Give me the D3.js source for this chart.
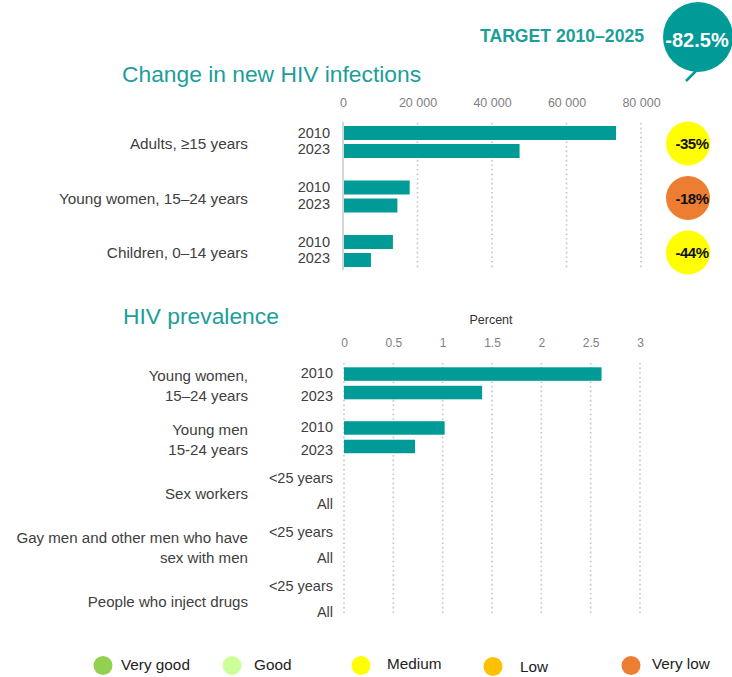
<!DOCTYPE html>
<html><head><meta charset="utf-8">
<script src="https://cdn.jsdelivr.net/npm/d3@7"></script>
<style>body{margin:0;background:#fff} svg{font-family:"Liberation Sans",Arial,sans-serif}</style>
</head><body><svg id="c" width="732" height="677"></svg>
<script>
// ---------- data ----------
const infGroups = ["Adults, ≥15 years", "Young women, 15–24 years", "Children, 0–14 years"];
const years = ["2010", "2023"];
const infections2010 = [73300, 17900, 13400];
const infections2023 = [47400, 14600, 7500];
const changeLabels = ["-35%", "-18%", "-44%"];
const changeRatings = ["Medium", "Very low", "Medium"];
const infTicks = [0, 20000, 40000, 60000, 80000];
const targetLabel = "TARGET 2010–2025";
const targetValue = "-82.5%";

const prevGroups = [["Young women,", "15–24 years"], ["Young men", "15-24 years"], ["Sex workers"],
                    ["Gay men and other men who have", "sex with men"], ["People who inject drugs"]];
const prevSubLabels = [["2010", "2023"], ["2010", "2023"], ["<25 years", "All"], ["<25 years", "All"], ["<25 years", "All"]];
const prev2010 = [2.61, 1.02, null, null, null];
const prev2023 = [1.40, 0.72, null, null, null];
const prevTicks = [0, 0.5, 1, 1.5, 2, 2.5, 3];

const legendLabels = ["Very good", "Good", "Medium", "Low", "Very low"];
const legendColors = ["#92d050", "#ccff99", "#ffff00", "#ffc000", "#ed7d31"];

// ---------- styles ----------
const TEAL = "#009a97", TITLE = "#1c9e9a", LABEL = "#404040", TICK = "#808080", GRID = "#c4c4c4";
const ratingColor = d3.scaleOrdinal(legendLabels, legendColors);

const svg = d3.select("#c");
const fmtSpace = d3.formatLocale({decimal: ".", thousands: " ", grouping: [3], currency: ["", ""]}).format(",");

// ---------- target bubble ----------
svg.append("text").attr("x", 644).attr("y", 42).attr("text-anchor", "end")
  .attr("font-size", 17.6).attr("font-weight", "bold").attr("fill", TITLE).text(targetLabel);
svg.append("line").attr("x1", 686).attr("y1", 81).attr("x2", 696).attr("y2", 71)
  .attr("stroke", TEAL).attr("stroke-width", 2.5);
svg.append("circle").attr("cx", 698).attr("cy", 37).attr("r", 35).attr("fill", TEAL);
svg.append("text").attr("x", 697).attr("y", 47).attr("text-anchor", "middle")
  .attr("font-size", 20).attr("font-weight", "bold").attr("fill", "#fff").text(targetValue);

// ---------- chart 1: new infections ----------
svg.append("text").attr("x", 122).attr("y", 82).attr("font-size", 22.8).attr("fill", TITLE)
  .text("Change in new HIV infections");

const x1 = d3.scaleLinear().domain([0, 80000]).range([343, 641]);
const g1 = d3.scalePoint().domain(infGroups).range([142, 251]);
const inner1 = d3.scaleBand().domain(years).range([-16, 16]).paddingInner(4 / 18);

const ax1 = svg.append("g").attr("transform", "translate(0,110)")
  .call(d3.axisTop(x1).tickValues(infTicks).tickFormat(fmtSpace).tickSize(0));
ax1.select(".domain").remove();
ax1.selectAll("text").attr("font-size", 12.5).attr("fill", TICK).attr("font-family", "Liberation Sans, Arial, sans-serif").attr("dy", 0);

svg.append("g").selectAll("line").data(infTicks.filter(t => t > 0)).join("line")
  .attr("x1", d => x1(d)).attr("x2", d => x1(d)).attr("y1", 123).attr("y2", 270)
  .attr("stroke", GRID).attr("stroke-width", 1.6).attr("stroke-dasharray", "1.6,3");
svg.append("line").attr("x1", x1(0)).attr("x2", x1(0)).attr("y1", 122).attr("y2", 270)
  .attr("stroke", "#d6d6d6").attr("stroke-width", 2);

const inf = infGroups.map((g, i) => ({g, i, vals: [infections2010[i], infections2023[i]]}));
inf.forEach(d => {
  years.forEach((y, k) => {
    svg.append("rect").attr("x", x1(0) + 1).attr("y", g1(d.g) + inner1(y))
      .attr("width", x1(d.vals[k]) - x1(0) - 1).attr("height", inner1.bandwidth()).attr("fill", TEAL);
  });
  svg.append("text").attr("x", 330).attr("y", g1(d.g) - 4.3).attr("text-anchor", "end")
    .attr("font-size", 14.5).attr("fill", LABEL).text(years[0]);
  svg.append("text").attr("x", 330).attr("y", g1(d.g) + 12).attr("text-anchor", "end")
    .attr("font-size", 14.5).attr("fill", LABEL).text(years[1]);
  svg.append("text").attr("x", 248).attr("y", g1(d.g) + 7).attr("text-anchor", "end")
    .attr("font-size", 15.3).attr("fill", LABEL).text(d.g);
  svg.append("circle").attr("cx", 688).attr("cy", g1(d.g) + 1.5).attr("r", 22)
    .attr("fill", ratingColor(changeRatings[d.i]));
  svg.append("text").attr("x", 692).attr("y", g1(d.g) + 7).attr("text-anchor", "middle")
    .attr("font-size", 15).attr("font-weight", "bold").attr("letter-spacing", -0.5)
    .attr("fill", "#111").text(changeLabels[d.i]);
});

// ---------- chart 2: prevalence ----------
svg.append("text").attr("x", 123).attr("y", 324).attr("font-size", 22.8).attr("fill", TITLE)
  .text("HIV prevalence");
svg.append("text").attr("x", 491).attr("y", 324).attr("text-anchor", "middle")
  .attr("font-size", 12.5).attr("fill", "#333").text("Percent");

const x2 = d3.scaleLinear().domain([0, 3]).range([344, 640]);
const g2 = d3.scalePoint().domain(d3.range(prevGroups.length)).range([383.3, 599]);
const inner2 = d3.scaleBand().domain(years).range([-16, 16]).paddingInner(5 / 18.5);

const ax2 = svg.append("g").attr("transform", "translate(0,350)")
  .call(d3.axisTop(x2).tickValues(prevTicks).tickFormat(d => String(d)).tickSize(0));
ax2.select(".domain").remove();
ax2.selectAll("text").attr("font-size", 12).attr("fill", TICK).attr("font-family", "Liberation Sans, Arial, sans-serif").attr("dy", 0);

svg.append("g").selectAll("line").data(prevTicks).join("line")
  .attr("x1", d => x2(d)).attr("x2", d => x2(d)).attr("y1", 363).attr("y2", 616)
  .attr("stroke", GRID).attr("stroke-width", 1.6).attr("stroke-dasharray", "1.6,3");

prevGroups.forEach((lines, i) => {
  const cy = g2(i);
  const vals = [prev2010[i], prev2023[i]];
  const hasData = vals[0] != null;
  years.forEach((y, k) => {
    if (vals[k] != null) {
      svg.append("rect").attr("x", x2(0)).attr("y", cy + inner2(y))
        .attr("width", x2(vals[k]) - x2(0)).attr("height", inner2.bandwidth()).attr("fill", TEAL);
    }
  });
  const subOff = hasData ? [-5, 17.5] : [-8, 17.5];
  prevSubLabels[i].forEach((s, k) => {
    svg.append("text").attr("x", 333).attr("y", cy + subOff[k]).attr("text-anchor", "end")
      .attr("font-size", 14.5).attr("fill", LABEL).text(s);
  });
  const lineOff = lines.length === 2 ? [-2.5, 17.5] : [7.5];
  lines.forEach((t, k) => {
    svg.append("text").attr("x", 248).attr("y", cy + lineOff[k]).attr("text-anchor", "end")
      .attr("font-size", 15.1).attr("fill", LABEL).text(t);
  });
});

// ---------- legend ----------
const legX = [103, 232, 361, 493, 631];
const legTextX = [121, 254, 387, 520, 652];
const legDy = [0, 0, -1, 2.5, -0.5];
legendLabels.forEach((l, i) => {
  svg.append("circle").attr("cx", legX[i]).attr("cy", 665.5 + (i === 3 ? 1 : 0)).attr("r", 9.5).attr("fill", legendColors[i]);
  svg.append("text").attr("x", legTextX[i]).attr("y", 669.5 + legDy[i]).attr("font-size", 15.3)
    .attr("fill", "#222").text(l);
});
</script></body></html>
